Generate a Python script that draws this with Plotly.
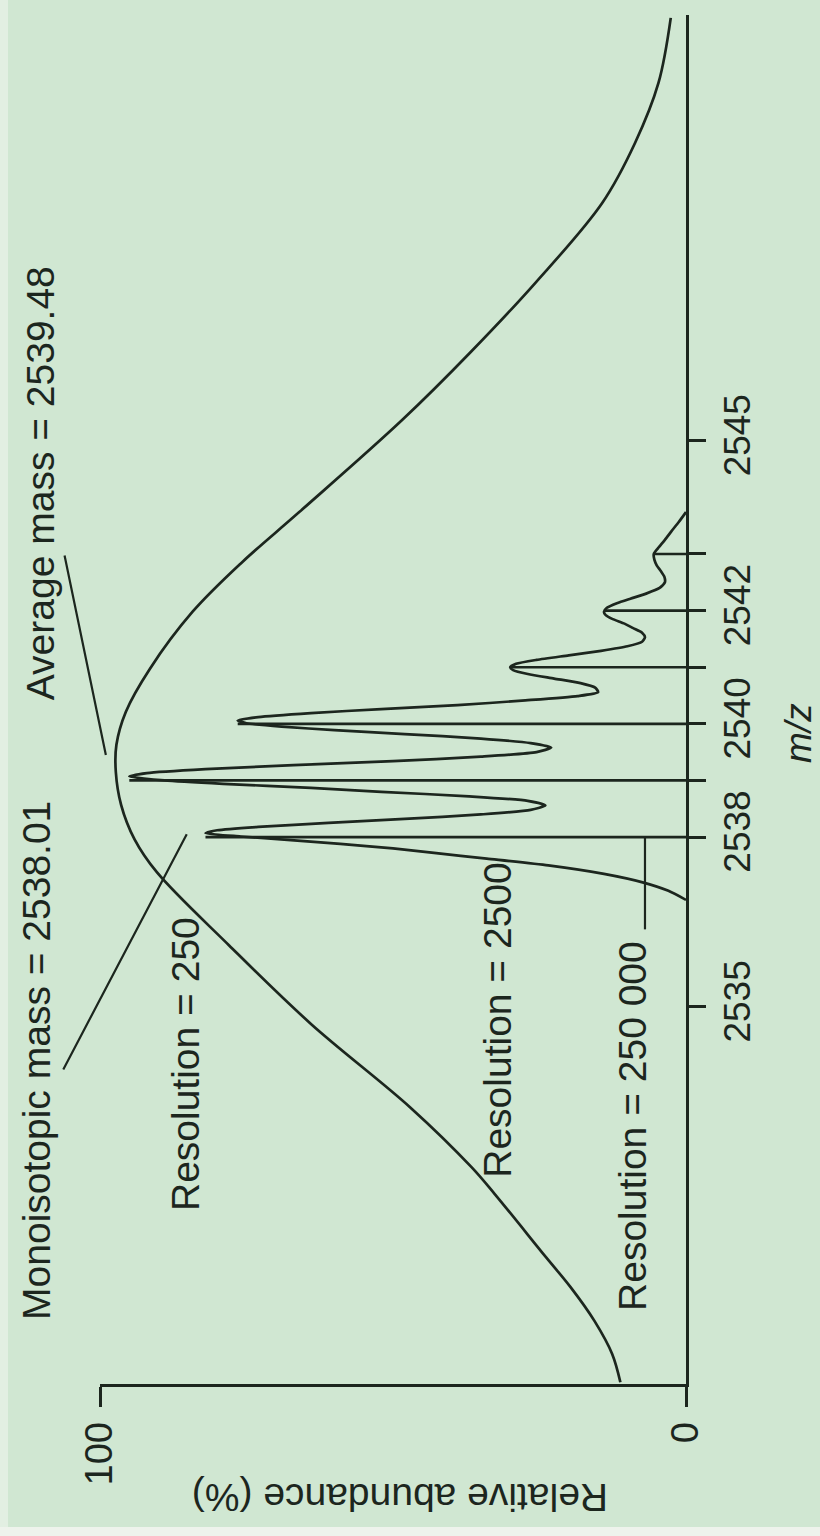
import plotly.graph_objects as go

# Isotope cluster of a ~2540 Da ion seen at three resolving powers
# Resolution = 250: one broad envelope
broad_mz = [2528.37, 2528.87, 2529.45, 2530.05, 2530.58, 2531.69, 2532.17, 2533.23,
            2534.70, 2536.09, 2537.38, 2537.96, 2538.57, 2539.15, 2539.63, 2540.21,
            2540.97, 2541.98, 2542.86, 2543.74, 2545.37, 2546.55, 2547.79, 2549.20,
            2550.26, 2551.32, 2552.47]
broad_ab = [11.2, 12.6, 15.6, 19.7, 23.9, 32.6, 36.6, 47.1,
            64.0, 78.0, 90.3, 94.1, 96.4, 97.3, 97.2, 95.6,
            91.5, 84.2, 75.7, 66.0, 48.4, 36.9, 25.7, 14.3,
            8.7, 4.7, 2.6]

# Resolution = 2500: partly resolved isotope peaks
mid_mz = [2536.89, 2537.05, 2537.20, 2537.35, 2537.50, 2537.62, 2537.72, 2537.80, 2537.88, 2537.95,
          2538.01, 2538.07, 2538.12, 2538.18, 2538.25, 2538.32, 2538.40, 2538.48, 2538.56, 2538.64,
          2538.72, 2538.80, 2538.87, 2538.94, 2539.00, 2539.07, 2539.13, 2539.20, 2539.27, 2539.34,
          2539.42, 2539.50, 2539.58, 2539.66, 2539.74, 2539.82, 2539.89, 2539.95, 2540.01, 2540.06,
          2540.12, 2540.19, 2540.26, 2540.33, 2540.41, 2540.49, 2540.56, 2540.64, 2540.72, 2540.80,
          2540.88, 2540.95, 2541.00, 2541.06, 2541.13, 2541.21, 2541.29, 2541.37, 2541.45, 2541.53,
          2541.61, 2541.69, 2541.77, 2541.85, 2541.92, 2541.98, 2542.05, 2542.13, 2542.21, 2542.30,
          2542.40, 2542.50, 2542.60, 2542.70, 2542.80, 2542.90, 2543.00, 2543.10, 2543.25, 2543.40,
          2543.57, 2543.74]
mid_ab = [0, 3, 7.4, 14, 23.5, 34, 43, 50, 59, 68,
          76, 82, 80, 73, 61, 48, 35, 26.5, 24, 27,
          37, 52, 64, 79, 89, 95, 92, 82, 67, 50,
          35, 25.5, 23, 26.5, 35, 48, 60, 69, 75, 76.5,
          73, 64, 52, 39, 28, 18.5, 15, 15.5, 18, 22.5,
          27, 29.5, 30, 29, 25.5, 20, 14.5, 10, 7.5, 7,
          7.5, 9, 10.5, 12.5, 13.7, 14, 13.5, 11.8, 9.5, 6.8,
          4.5, 3.6, 3.7, 4.3, 5, 5.4, 5.5, 4.8, 3.6, 2.5,
          1.2, 0]

# Resolution = 250 000: fully resolved isotope lines
stick_mz = [2538, 2539, 2540, 2541, 2542, 2543]
stick_ab = [82, 95, 76.5, 30, 14, 5.5]

mz_ticks = [2535, 2538, 2539, 2540, 2541, 2542, 2543, 2545]
mz_labels = ["2535", "2538", "", "2540", "", "2542", "", "2545"]
ab_ticks = [0, 100]
ab_labels = ["0", "100"]

INK = "#1c261e"
BG = "#d0e7d2"
FONT = "Liberation Sans, Arial, sans-serif"
LW = 2.7

fig = go.Figure()

fig.add_trace(go.Scatter(x=broad_ab, y=broad_mz, mode="lines",
                         line=dict(color=INK, width=LW, shape="spline", smoothing=1.0),
                         hoverinfo="skip"))
fig.add_trace(go.Scatter(x=mid_ab, y=mid_mz, mode="lines",
                         line=dict(color=INK, width=LW, shape="spline", smoothing=0.6),
                         hoverinfo="skip"))

sx, sy = [], []
for m, a in zip(stick_mz, stick_ab):
    sx += [0, a, None]
    sy += [m, m, None]
fig.add_trace(go.Scatter(x=sx, y=sy, mode="lines",
                         line=dict(color=INK, width=LW), hoverinfo="skip"))

# leader from the 250 000 label to the monoisotopic line
fig.add_trace(go.Scatter(x=[7.0, 7.0], y=[2536.37, 2538.0], mode="lines",
                         line=dict(color=INK, width=2.2), hoverinfo="skip"))

fig.update_layout(
    width=820, height=1536,
    margin=dict(l=100, r=134, t=15, b=152),
    paper_bgcolor=BG, plot_bgcolor=BG,
    showlegend=False,
    font=dict(family=FONT, color=INK, size=38),
    xaxis=dict(range=[100, 0], tickvals=ab_ticks, ticktext=ab_labels,
               tickangle=-90, ticks="outside", ticklen=20, tickwidth=LW,
               tickcolor=INK, showline=True, linecolor=INK, linewidth=LW,
               showgrid=False, zeroline=False, tickfont=dict(size=38)),
    yaxis=dict(range=[2528.34, 2552.52], side="right", tickvals=mz_ticks,
               ticktext=mz_labels, tickangle=-90, ticks="outside", ticklen=17,
               tickwidth=LW, tickcolor=INK, showline=True, linecolor=INK,
               linewidth=LW, showgrid=False, zeroline=False,
               tickfont=dict(size=37)),
)

# pale scan margins along the left and bottom edges
fig.add_shape(type="rect", xref="paper", yref="paper", x0=-0.2, x1=-0.157,
              y0=-0.2, y1=1.1, fillcolor="#e2efe2", line_width=0, layer="below")
fig.add_shape(type="rect", xref="paper", yref="paper", x0=-0.2, x1=1.3,
              y0=-0.2, y1=-0.1045, fillcolor="#eef3ec", line_width=0, layer="below")

def label(text, xp, yp, angle=-90, size=39):
    fig.add_annotation(text=text, x=xp, y=yp, xref="paper", yref="paper",
                       showarrow=False, textangle=angle,
                       xanchor="center", yanchor="middle",
                       font=dict(family=FONT, size=size, color=INK))

label("Monoisotopic mass = 2538.01", -0.1075, 0.236)
label("Average mass = 2539.48", -0.1024, 0.658)
label("Resolution = 250", 0.145, 0.2337)
label("Resolution = 2500", 0.679, 0.266)
label("Resolution = 250 000", 0.9096, 0.1885)
label("Relative abundance (%)", 0.512, -0.0825, angle=180)
label("<i>m/z</i>", 1.191, 0.4755, size=37)

# leader lines for the mass labels
for head, tail in [((99.0, 2539.45), (106.1, 2543.0)),
                   ((85.2, 2538.05), (106.4, 2533.87))]:
    fig.add_annotation(x=head[0], y=head[1], ax=tail[0], ay=tail[1],
                       xref="x", yref="y", axref="x", ayref="y",
                       text="", showarrow=True, arrowhead=0,
                       arrowwidth=2.2, arrowcolor=INK)

fig.write_html("out.html")
